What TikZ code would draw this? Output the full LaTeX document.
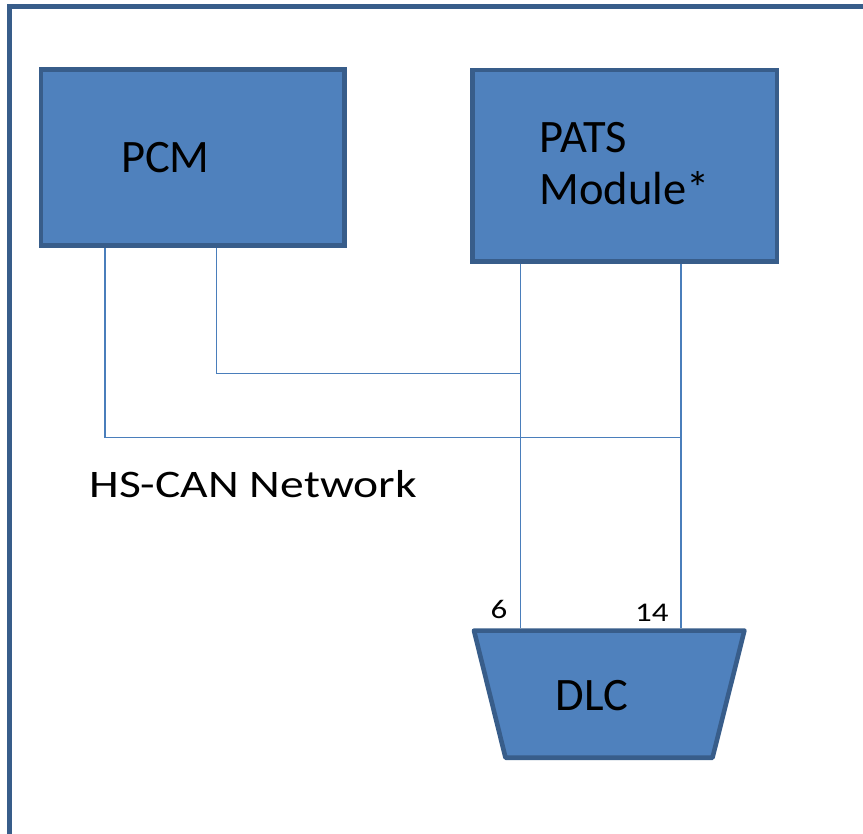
\documentclass[tikz,border=0pt]{standalone}
\usepackage{fontspec}
\setmainfont{Carlito}
\newfontfamily\widefont[FakeStretch=1.22]{Carlito}
\usetikzlibrary{positioning, calc}
\definecolor{boxfill}{HTML}{4F81BD}
\definecolor{boxline}{HTML}{385D8A}
\definecolor{wirecol}{HTML}{4A7EBB}

\begin{document}
\begin{tikzpicture}[x=1pt, y=-1pt,
		module/.style={draw=boxline, fill=boxfill, line width=4.6pt, inner sep=0pt},
		wire/.style={draw=wirecol, line width=1.5pt},
		bigtext/.style={font=\fontsize{46.5}{52.3}\selectfont, inner sep=0pt, anchor=base west},
		nettext/.style={font=\widefont\fontsize{39}{44}\selectfont, inner sep=0pt, anchor=base west},
		pintext/.style={font=\widefont\fontsize{27}{30}\selectfont, inner sep=0pt, anchor=base west}]
			\path[use as bounding box] (0,0) rectangle (863,834);
			\clip (0,0) rectangle (863,834);
			
			% Outer frame
			\draw[draw=boxline, line width=5pt] (9.2,6.3) rectangle (890,860);
			
			% Modules
			\node[module, minimum width=303.4pt, minimum height=176.1pt] (pcm) at (192.7,157.6) {};
			\node[module, minimum width=304.4pt, minimum height=191.7pt] (pats) at (624.8,165.8) {};
			
			% DLC connector
			\draw[module, line join=round] (474,630.6) -- (744.4,630.6) -- (712.5,757.7) -- (505.5,757.7) -- cycle;
			\coordinate (pin6) at (520.7,628.3);
			\coordinate (pin14) at (681,628.3);
			
			% Labels
			\node[bigtext] (pcmlabel) at (120.8,172.3) {PCM};
			\node[bigtext, align=left] (patslabel) at (539.2,205) {PATS\\Module*};
			\node[bigtext] (dlclabel) at (555.3,710) {DLC};
			\node[nettext] (netlabel) at (89.5,497.3) {HS-CAN Network};
			\node[pintext] (pin6label) at (490.3,618.3) {6};
			\node[pintext] (pin14label) at (635,621) {14};
			
			% Network wires
			\coordinate (canlo) at (105,437.7);
			\coordinate (canhi) at (216.7,373.7);
			\draw[wire] (pcm.south -| canlo) -- (canlo) -- (canlo -| pin14);
			\draw[wire] (pcm.south -| canhi) -- (canhi) -- (canhi -| pin6);
			\draw[wire] (pats.south -| pin6) -- (pin6);
			\draw[wire] (pats.south -| pin14) -- (pin14);
		\end{tikzpicture}
\end{document}
